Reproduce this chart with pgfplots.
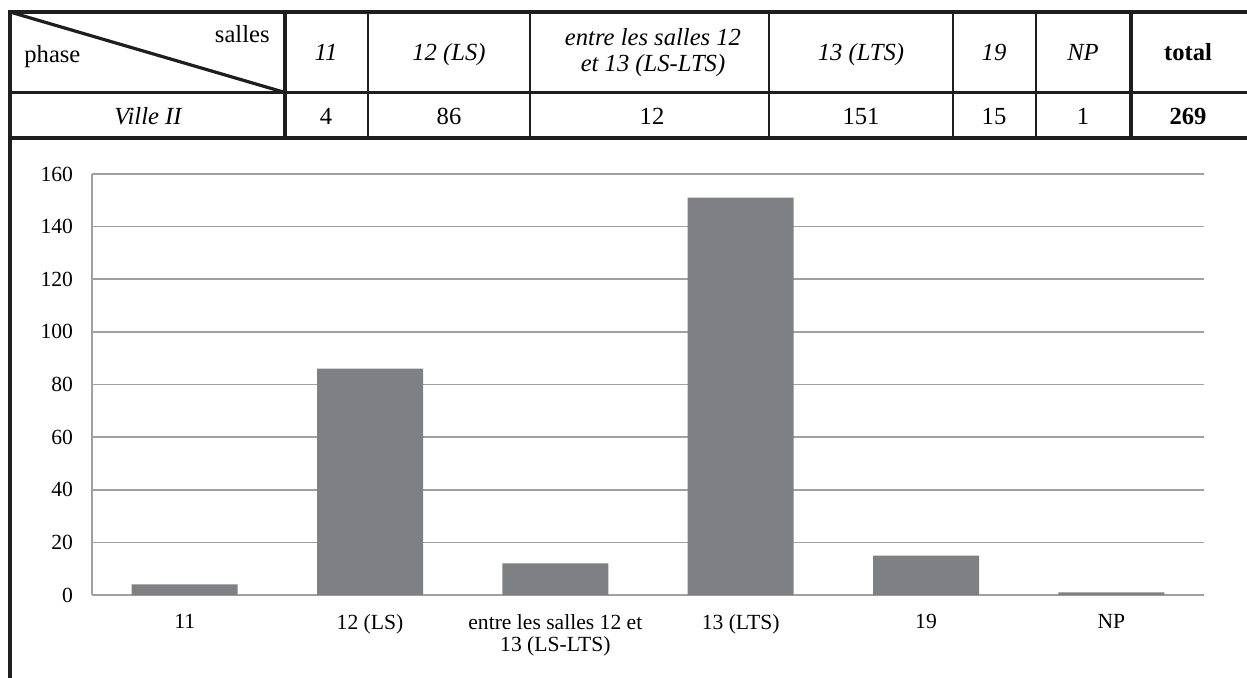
\documentclass[border=0pt]{standalone}
\usepackage{fontspec}
\setmainfont{Liberation Serif}
\usepackage{pgfplots}
\pgfplotsset{compat=1.18}
\definecolor{bargray}{RGB}{127,128,132}
\definecolor{gridgray}{RGB}{160,160,164}
\definecolor{linek}{RGB}{30,30,30}
\begin{document}
\begin{tikzpicture}
\path[use as bounding box] (0,0) rectangle (623.5pt,338.5pt);
% ---- table ----
\begin{scope}[draw=linek, line width=1.6pt]
\draw (5pt,-2pt) -- (5pt,332.5pt) -- (630pt,332.5pt);
\draw (5pt,292.25pt) -- (630pt,292.25pt);
\draw (5pt,269.5pt) -- (630pt,269.5pt);
\draw (142.5pt,332.5pt) -- (142.5pt,269.5pt);
\draw (565.5pt,332.5pt) -- (565.5pt,269.5pt);
\draw (5pt,332.5pt) -- (142.5pt,292.25pt);
\end{scope}
\begin{scope}[draw=linek, line width=1.1pt]
\foreach \x in {184,265,384.5,476.5,518} \draw (\x pt,332.5pt) -- (\x pt,269.5pt);
\end{scope}
\begin{scope}[every node/.style={font=\fontsize{12.3}{14}\selectfont, inner sep=0pt}]
\node[anchor=base east] at (135pt,317.5pt) {salles};
\node[anchor=base west] at (12pt,307.5pt) {phase};
\node[anchor=base] at (163pt,308.5pt) {\itshape 11};
\node[anchor=base] at (224.5pt,308.5pt) {\itshape 12 (LS)};
\node[anchor=base] at (326.5pt,316pt) {\itshape entre les salles 12};
\node[anchor=base] at (326.5pt,302.8pt) {\itshape et 13 (LS-LTS)};
\node[anchor=base] at (430.5pt,308.5pt) {\itshape 13 (LTS)};
\node[anchor=base] at (497pt,308.5pt) {\itshape 19};
\node[anchor=base] at (541.5pt,308.5pt) {\itshape NP};
\node[anchor=base] at (594pt,308.5pt) {\bfseries total};
\node[anchor=base] at (74pt,276.5pt) {\itshape Ville II};
\node[anchor=base] at (163pt,276.5pt) {4};
\node[anchor=base] at (224.5pt,276.5pt) {86};
\node[anchor=base] at (326pt,276.5pt) {12};
\node[anchor=base] at (430.5pt,276.5pt) {151};
\node[anchor=base] at (497pt,276.5pt) {15};
\node[anchor=base] at (541.5pt,276.5pt) {1};
\node[anchor=base] at (594pt,276.5pt) {\bfseries 269};
\end{scope}
% ---- chart ----
\begin{axis}[
  at={(46pt,41pt)}, anchor=south west,
  scale only axis, width=556pt, height=210.5pt,
  xmin=-0.5, xmax=5.5, ymin=0, ymax=160,
  ybar, bar width=53pt,
  xtick={0,1,2,3,4,5},
  xticklabels={11, 12 (LS), {entre les salles 12 et\\13 (LS-LTS)}, 13 (LTS), 19, NP},
  ytick={0,20,...,160},
  major tick length=0pt,
  axis x line*=bottom, axis y line*=left,
  axis line style={draw=gridgray, line width=0.8pt, -},
  ymajorgrids, grid style={draw=gridgray, line width=0.8pt},
  ticklabel style={font=\fontsize{10.8}{11.4}\selectfont},
  /pgf/number format/assume math mode=true,
  yticklabel style={xshift=-6pt},
  xticklabel style={align=center, yshift=-6pt},
]
\addplot[fill=bargray, draw=none] coordinates {(0,4) (1,86) (2,12) (3,151) (4,15) (5,1)};
\end{axis}
\end{tikzpicture}
\end{document}
